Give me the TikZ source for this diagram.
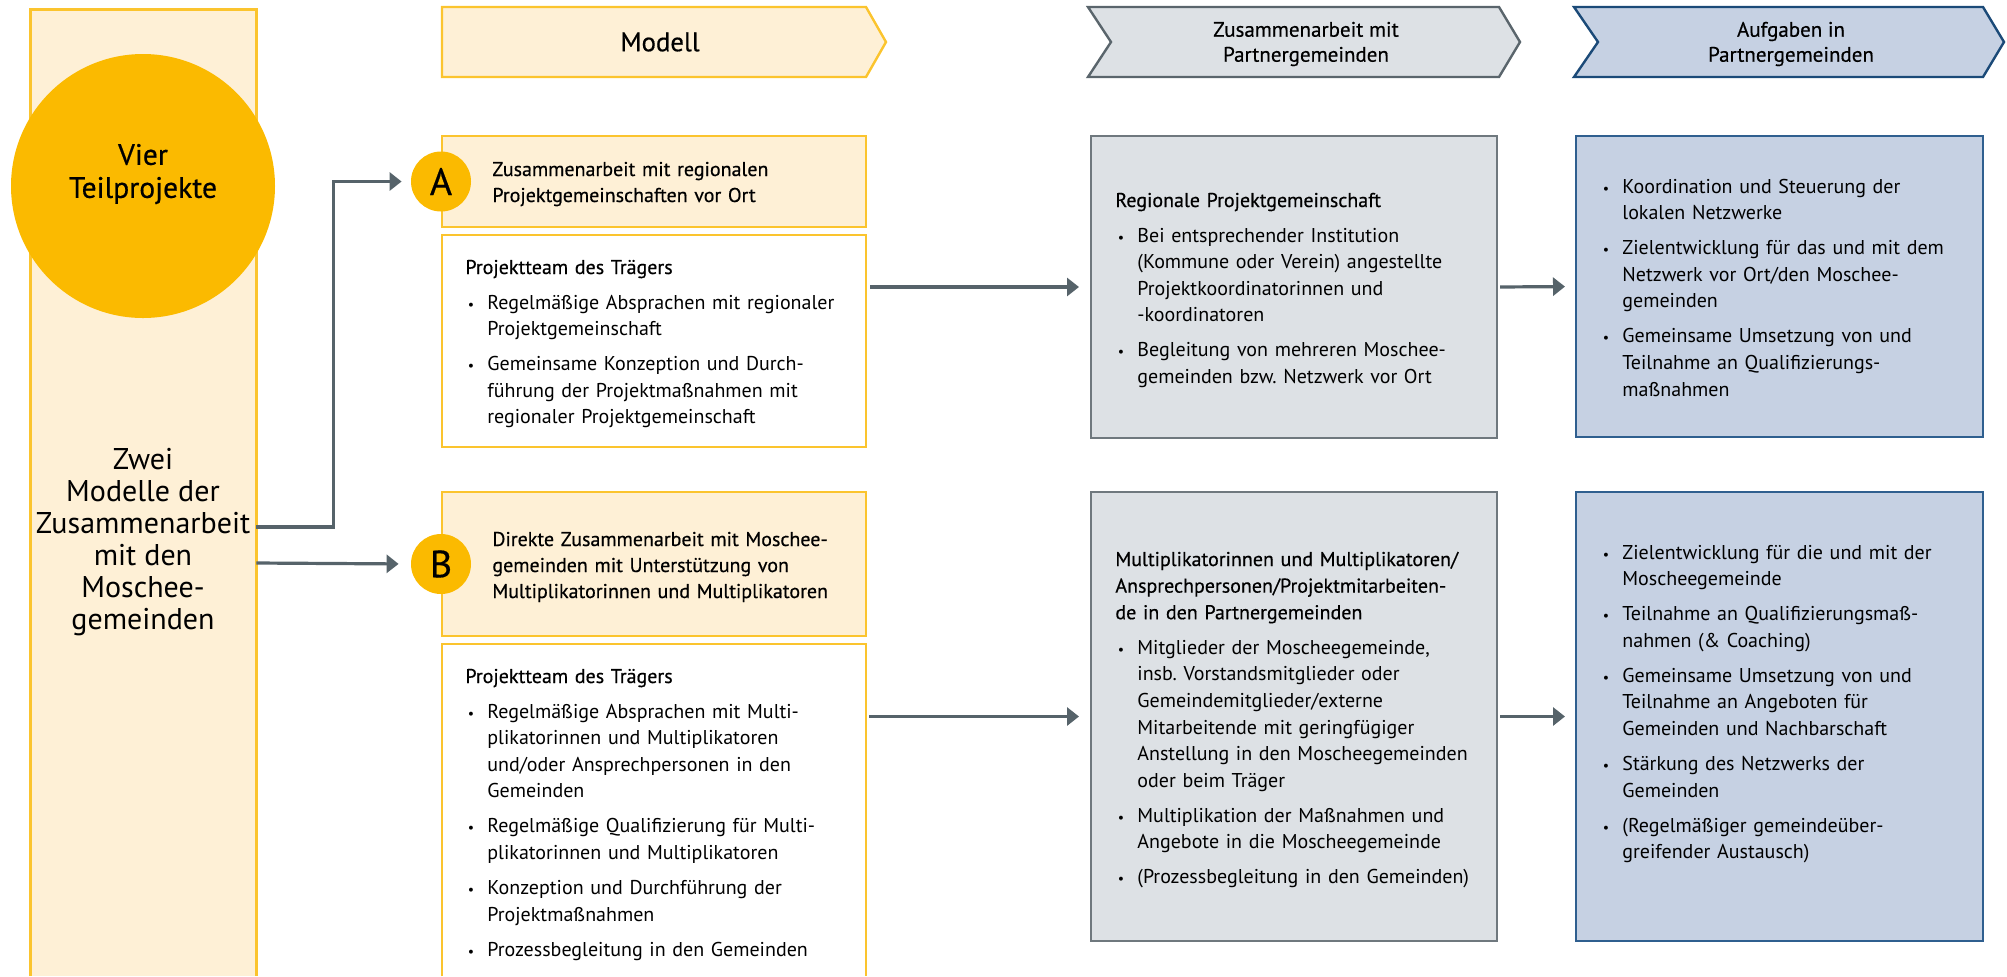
\documentclass[tikz,border=0pt]{standalone}
\usepackage{fontspec}
\setmainfont{PT Sans}
\newfontfamily\medfont{PT Sans}[FakeBold=0.5]
\usetikzlibrary{arrows.meta,fit,positioning}

\definecolor{gelbfill}{HTML}{FEF0D6}
\definecolor{gelbrand}{HTML}{FBC42E}
\definecolor{gelb}{HTML}{FBBA00}
\definecolor{graufill}{HTML}{DDE1E5}
\definecolor{graurand}{HTML}{6F787E}
\definecolor{grauchev}{HTML}{5A656C}
\definecolor{blaufill}{HTML}{C6D1E3}
\definecolor{blaurand}{HTML}{2F5F8F}
\definecolor{blauchev}{HTML}{1B4A78}
\definecolor{pfeilfarbe}{HTML}{56636A}

% Aufzaehlungspunkte
\newcommand{\itmfirst}[1]{\noindent\hangindent=11pt\hangafter=1\makebox[11pt][l]{\hspace{1.2pt}{\fontsize{7}{7}\selectfont\textbullet}}#1}
\newcommand{\itm}[1]{\par\vspace{4.2pt}\itmfirst{#1}}

\tikzset{
  gelbbox/.style={draw=gelbrand, fill=gelbfill, line width=1pt, inner sep=0pt},
  weissbox/.style={draw=gelbrand, fill=white, line width=1pt, inner sep=0pt},
  graubox/.style={draw=graurand, fill=graufill, line width=1pt, inner sep=0pt},
  blaubox/.style={draw=blaurand, fill=blaufill, line width=1pt, inner sep=0pt},
  kreis/.style={circle, fill=gelb, inner sep=0pt},
  buchst/.style={kreis, minimum size=30pt, font=\medfont\fontsize{19}{19}\selectfont},
  kopf/.style={align=center, inner sep=0pt, font=\medfont\fontsize{10.5}{12.5}\selectfont},
  liste/.style={anchor=base west, inner sep=0pt, text width=200pt, font=\fontsize{10}{13.3}\selectfont},
  pfeil/.style={draw=pfeilfarbe, line width=1.6pt, -{Triangle[length=6pt,width=9pt]}}
}

\begin{document}
\frenchspacing
\begin{tikzpicture}[x=0.5pt,y=-0.5pt]
\useasboundingbox (0,0) rectangle (2007,976);

% linke Spalte
\node[fit={(31,10) (256,976)}, fill=gelbfill, inner sep=0pt] (teil) {};
\draw[gelbrand, line width=1.5pt] (teil.south west) -- (teil.north west) -- (teil.north east) -- (teil.south east);
\node[kreis, minimum size=132pt] (vier) at (143,186) {};
\node[kopf, font=\medfont\fontsize{14.8}{16.5}\selectfont] (viertxt) at (143,174) {Vier\\Teilprojekte};
\node[align=center, inner sep=0pt, font=\fontsize{15}{16}\selectfont] (zwei) at (143,542)
  {Zwei\\Modelle der\\Zusammenarbeit\\mit den\\Moschee-\\gemeinden};
\coordinate (ma) at (teil.east |- 0,527);
\coordinate (mb) at (teil.east |- 0,563);

% Kopfzeilen
\draw[gelbrand, fill=gelbfill, line width=1.2pt] (442,7) -- (866,7) -- (886,42) -- (866,77) -- (442,77) -- cycle;
\node[kopf, font=\medfont\fontsize{13.4}{15}\selectfont] (modell) at (660,42) {Modell};
\draw[grauchev, fill=graufill, line width=1.2pt] (1088,7) -- (1499,7) -- (1520,42) -- (1499,77) -- (1088,77) -- (1111,42) -- cycle;
\node[kopf] (zusam) at (1306,44) {Zusammenarbeit mit\\Partnergemeinden};
\draw[blauchev, fill=blaufill, line width=1.2pt] (1574,7) -- (1983,7) -- (2004,42) -- (1983,77) -- (1574,77) -- (1598,42) -- cycle;
\node[kopf] (aufg) at (1791,44) {Aufgaben in\\Partnergemeinden};

% Modell A
\node[gelbbox, fit={(442,136) (866,227)}] (boxA) {};
\node[buchst] (labA) at (boxA.west) {A};
\node[liste, font=\medfont\fontsize{10}{13}\selectfont] (txtA) at (492,176)
  {Zusammenarbeit mit regionalen\newline Projektgemeinschaften vor Ort};
\node[weissbox, fit={(442,235) (866,447)}] (teamA) {};
\node[liste] (teamAtxt) at (465,274) {{\medfont Projektteam des Trägers}
  \itm{Regelmäßige Absprachen mit regionaler\newline Projektgemeinschaft}
  \itm{Gemeinsame Konzeption und Durch-\newline führung der Projektmaßnahmen mit\newline regionaler Projektgemeinschaft}\par};

% Modell B
\node[gelbbox, fit={(442,492) (866,636)}] (boxB) {};
\node[buchst] (labB) at (boxB.west) {B};
\node[liste, font=\medfont\fontsize{10}{13}\selectfont] (txtB) at (492,546)
  {Direkte Zusammenarbeit mit Moschee-\newline gemeinden mit Unterstützung von\newline Multiplikatorinnen und Multiplikatoren};
\node[fit={(442,644) (866,976)}, fill=white, inner sep=0pt] (teamB) {};
\draw[gelbrand, line width=1pt] (teamB.south west) -- (teamB.north west) -- (teamB.north east) -- (teamB.south east);
\node[liste] (teamBtxt) at (465,683) {{\medfont Projektteam des Trägers}
  \itm{Regelmäßige Absprachen mit Multi-\newline plikatorinnen und Multiplikatoren\newline und/oder Ansprechpersonen in den\newline Gemeinden}
  \itm{Regelmäßige Qualifizierung für Multi-\newline plikatorinnen und Multiplikatoren}
  \itm{Konzeption und Durchführung der\newline Projektmaßnahmen}
  \itm{Prozessbegleitung in den Gemeinden}\par};

% Partnergemeinden
\node[graubox, fit={(1091,136) (1497,438)}] (partA) {};
\node[liste] (partAtxt) at (1115,207) {{\medfont Regionale Projektgemeinschaft}
  \itm{Bei entsprechender Institution\newline (Kommune oder Verein) angestellte\newline Projektkoordinatorinnen und\newline -koordinatoren}
  \itm{Begleitung von mehreren Moschee-\newline gemeinden bzw. Netzwerk vor Ort}\par};
\node[graubox, fit={(1091,492) (1497,941)}] (partB) {};
\node[liste] (partBtxt) at (1115,566) {{\medfont Multiplikatorinnen und Multiplikatoren/\newline Ansprechpersonen/Projektmitarbeiten-\newline de in den Partnergemeinden}
  \itm{Mitglieder der Moscheegemeinde,\newline insb. Vorstandsmitglieder oder\newline Gemeindemitglieder/externe\newline Mitarbeitende mit geringfügiger\newline Anstellung in den Moscheegemeinden\newline oder beim Träger}
  \itm{Multiplikation der Maßnahmen und\newline Angebote in die Moscheegemeinde}
  \itm{(Prozessbegleitung in den Gemeinden)}\par};

% Aufgaben
\node[blaubox, fit={(1576,136) (1983,437)}] (taskA) {};
\node[liste] (taskAtxt) at (1600,193) {\itmfirst{Koordination und Steuerung der\newline lokalen Netzwerke}
  \itm{Zielentwicklung für das und mit dem\newline Netzwerk vor Ort/den Moschee-\newline gemeinden}
  \itm{Gemeinsame Umsetzung von und\newline Teilnahme an Qualifizierungs-\newline maßnahmen}\par};
\node[blaubox, fit={(1576,492) (1983,941)}] (taskB) {};
\node[liste] (taskBtxt) at (1600,559) {\itmfirst{Zielentwicklung für die und mit der\newline Moscheegemeinde}
  \itm{Teilnahme an Qualifizierungsmaß-\newline nahmen (\& Coaching)}
  \itm{Gemeinsame Umsetzung von und\newline Teilnahme an Angeboten für\newline Gemeinden und Nachbarschaft}
  \itm{Stärkung des Netzwerks der\newline Gemeinden}
  \itm{(Regelmäßiger gemeindeüber-\newline greifender Austausch)}\par};

% Pfeile
\draw[pfeil, shorten >=4.5pt] (ma) -- ++(77,0) |- (labA.west);
\draw[pfeil, shorten >=6pt] (mb) -- (labB.west);
\draw[pfeil, shorten <=1.5pt, shorten >=5.5pt] (teamA.east |- partA.west) -- (partA.west);
\draw[pfeil, shorten <=1pt, shorten >=5pt] (partA.east) -- (taskA.west);
\draw[pfeil, shorten <=1.5pt, shorten >=5.5pt] (teamB.east |- partB.west) -- (partB.west);
\draw[pfeil, shorten <=1pt, shorten >=5pt] (partB.east) -- (taskB.west);
\end{tikzpicture}
\end{document}
